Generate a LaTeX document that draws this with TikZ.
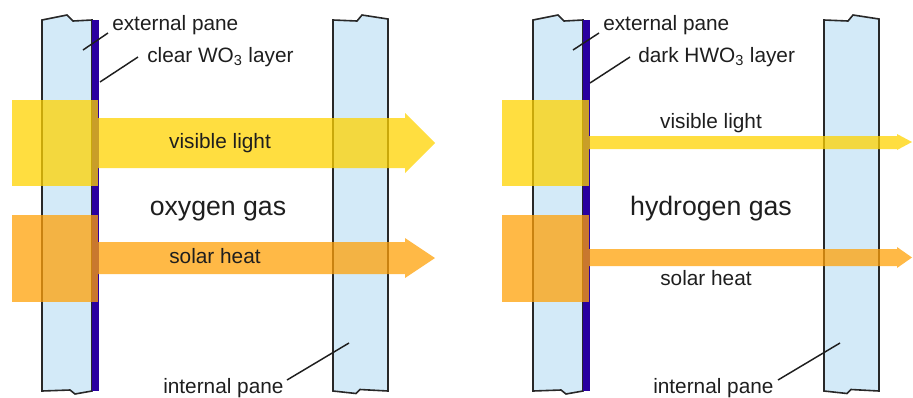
\documentclass[tikz,border=0pt]{standalone}
\usepackage{fontspec}
\setmainfont{Liberation Sans}
\definecolor{panefill}{RGB}{211,234,248}
\definecolor{panedraw}{RGB}{40,40,40}
\definecolor{layerblue}{RGB}{42,0,160}
\definecolor{lightyellow}{RGB}{255,211,0}
\definecolor{heatorange}{RGB}{255,161,8}
\definecolor{txt}{RGB}{30,30,30}
\tikzset{
  pane/.style={fill=panefill, draw=panedraw, line width=1.2pt, line join=miter},
  layer/.style={fill=layerblue, draw=none},
  lightbeam/.style={fill=lightyellow, fill opacity=0.75, draw=none},
  heatbeam/.style={fill=heatorange, fill opacity=0.75, draw=none},
  lbl/.style={text=txt, font=\fontsize{15.6}{18}\selectfont, inner sep=0pt},
  gaslbl/.style={text=txt, font=\fontsize{20}{24}\selectfont, inner sep=0pt},
  leader/.style={draw=txt, line width=1.1pt}
}
\newcommand\mypanes{%
  \path[pane] (42,20) -- (67,15) -- (73,21) -- (92,20) -- (92,391) -- (75,394) -- (70,390) -- (42,391) -- cycle;
  \path[layer] (92,20) rectangle (99,391);
  \path[pane] (333,20) -- (357,21) -- (362,15) -- (388,19) -- (388,391) -- (360,389.5) -- (356,393.5) -- (333,391) -- cycle;
}
\begin{document}
\begin{tikzpicture}[x=0.75pt,y=-0.75pt]
\useasboundingbox (0,0) rectangle (913,397);
% ---------- left panel ----------
\mypanes
\path[lightbeam] (12,100) rectangle (98,186);
\path[lightbeam] (98,118) -- (405,118) -- (405,113) -- (435,143) -- (405,173) -- (405,168) -- (98,168) -- cycle;
\path[heatbeam] (12,215) rectangle (98,302);
\path[heatbeam] (98,242) -- (405,242) -- (405,238) -- (435,258) -- (405,278) -- (405,274) -- (98,274) -- cycle;

\node[lbl, anchor=base west] (extL) at (112,30) {external pane};
\node[lbl, anchor=base west] (wo3) at (147,62) {clear WO\textsubscript{3} layer};
\node[lbl, anchor=base] (visL) at (220,148) {visible light};
\node[gaslbl, anchor=base] (oxy) at (218,215) {oxygen gas};
\node[lbl, anchor=base] (heatL) at (215,263) {solar heat};
\node[lbl, anchor=base west] (intL) at (163,393) {internal pane};

\coordinate (extLa) at (83,50);
\coordinate (extLb) at (108,33);
\coordinate (wo3a) at (100,82);
\coordinate (wo3b) at (138,57);
\coordinate (intLa) at (287,380);
\coordinate (intLb) at (349,343);
\draw[leader] (extLa) -- (extLb);
\draw[leader] (wo3a) -- (wo3b);
\draw[leader] (intLa) -- (intLb);

% ---------- right panel ----------
\begin{scope}[shift={(491,0)}]
\mypanes
\end{scope}
\path[lightbeam] (502,100) rectangle (589,186);
\path[lightbeam] (589,136) -- (897,136) -- (897,134) -- (912,142) -- (897,150) -- (897,149) -- (589,149) -- cycle;
\path[heatbeam] (502,215) rectangle (589,302);
\path[heatbeam] (589,249) -- (897,249) -- (897,247) -- (912,257.5) -- (897,268) -- (897,266) -- (589,266) -- cycle;

\node[lbl, anchor=base west] (extR) at (603,30) {external pane};
\node[lbl, anchor=base west] (hwo3) at (638,62) {dark HWO\textsubscript{3} layer};
\node[lbl, anchor=base] (visR) at (711,128) {visible light};
\node[gaslbl, anchor=base] (hyd) at (711,215) {hydrogen gas};
\node[lbl, anchor=base] (heatR) at (706,285) {solar heat};
\node[lbl, anchor=base west] (intR) at (653,393) {internal pane};

\coordinate (extRa) at (573,50);
\coordinate (extRb) at (599,33);
\coordinate (hwo3a) at (590,83);
\coordinate (hwo3b) at (630,57);
\coordinate (intRa) at (778,380);
\coordinate (intRb) at (840,343);
\draw[leader] (extRa) -- (extRb);
\draw[leader] (hwo3a) -- (hwo3b);
\draw[leader] (intRa) -- (intRb);
\end{tikzpicture}
\end{document}
